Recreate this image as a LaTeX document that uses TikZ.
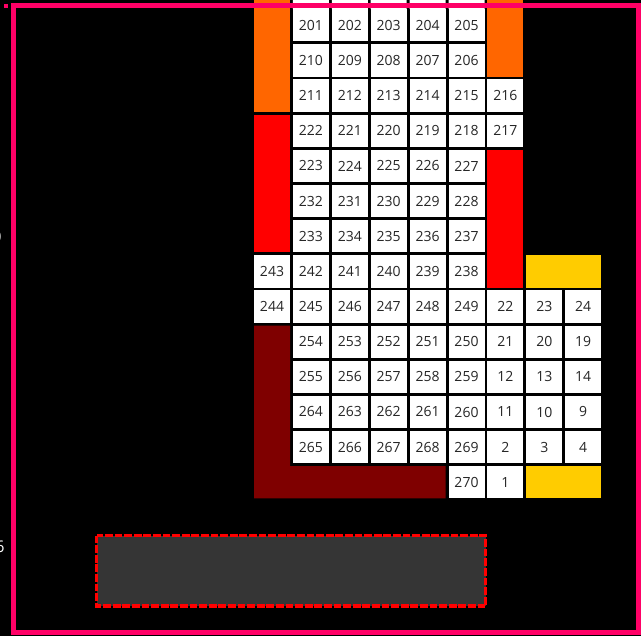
\documentclass[tikz,border=0pt]{standalone}
\usepackage{fontspec}
\setmainfont{Open Sans}
\usepackage{tikz}
\usetikzlibrary{positioning}
\definecolor{frame}{HTML}{FF0066}
\definecolor{zoneorange}{HTML}{FF6600}
\definecolor{zonered}{HTML}{FF0000}
\definecolor{zoneyellow}{HTML}{FFCC00}
\definecolor{zonemaroon}{HTML}{7F0000}
\definecolor{panelgrey}{HTML}{353535}
\newcommand{\gridfont}{\fontsize{14}{16}\selectfont}

\begin{document}
\begin{tikzpicture}[
    x=1pt, y=-1pt,
    node distance=2.85pt and 2.9pt,
    every node/.style={font=\gridfont},
    cell/.style={rectangle, fill=white, text=black!85, minimum width=36pt, minimum height=32.3pt, inner sep=0pt, outer sep=0pt},
    edgetext/.style={text=white!85, font=\fontsize{16}{18}\selectfont, inner sep=0pt, anchor=east},
    border/.style={draw=frame, line width=4.5pt},
    panel/.style={draw=red, fill=panelgrey, line width=3.3pt, dash pattern=on 7.8pt off 1.8pt}
]
% --- canvas ---
\fill[black] (0,0) rectangle (641,636);
\useasboundingbox (0,0) rectangle (641,636);
\coordinate (top) at (0,0);

% --- coloured zones ---
\fill[zoneorange] (254,0) rectangle (290,111.8);
\fill[zoneorange] (487.4,0) rectangle (523.4,76.65);
\fill[zonered] (254,114.65) rectangle (290,252.4);
\fill[zonered] (487.4,149.8) rectangle (523.4,287.55);
\fill[zoneyellow] (526.3,255.25) rectangle (601.2,287.55);
\fill[zoneyellow] (526.3,466.15) rectangle (601.2,498.45);
\fill[zonemaroon] (254,325.55) -- (290,325.55) -- (290,466.15) -- (445.6,466.15)
    -- (445.6,498.45) -- (254,498.45) -- cycle;

% --- cells, row by row ---
\node[cell] (c201) at (310.9,25.35) {201};
\node[cell, right=of c201] (c202) {202};
\node[cell, right=of c202] (c203) {203};
\node[cell, right=of c203] (c204) {204};
\node[cell, right=of c204] (c205) {205};

\node[cell, below=of c201] (c210) {210};
\node[cell, right=of c210] (c209) {209};
\node[cell, right=of c209] (c208) {208};
\node[cell, right=of c208] (c207) {207};
\node[cell, right=of c207] (c206) {206};

\node[cell, below=of c210] (c211) {211};
\node[cell, right=of c211] (c212) {212};
\node[cell, right=of c212] (c213) {213};
\node[cell, right=of c213] (c214) {214};
\node[cell, right=of c214] (c215) {215};
\node[cell, right=of c215] (c216) {216};

\node[cell, below=of c211] (c222) {222};
\node[cell, right=of c222] (c221) {221};
\node[cell, right=of c221] (c220) {220};
\node[cell, right=of c220] (c219) {219};
\node[cell, right=of c219] (c218) {218};
\node[cell, right=of c218] (c217) {217};

\node[cell, below=of c222] (c223) {223};
\node[cell, right=of c223] (c224) {224};
\node[cell, right=of c224] (c225) {225};
\node[cell, right=of c225] (c226) {226};
\node[cell, right=of c226] (c227) {227};

\node[cell, below=of c223] (c232) {232};
\node[cell, right=of c232] (c231) {231};
\node[cell, right=of c231] (c230) {230};
\node[cell, right=of c230] (c229) {229};
\node[cell, right=of c229] (c228) {228};

\node[cell, below=of c232] (c233) {233};
\node[cell, right=of c233] (c234) {234};
\node[cell, right=of c234] (c235) {235};
\node[cell, right=of c235] (c236) {236};
\node[cell, right=of c236] (c237) {237};

\node[cell, below=of c233] (c242) {242};
\node[cell, left=of c242] (c243) {243};
\node[cell, right=of c242] (c241) {241};
\node[cell, right=of c241] (c240) {240};
\node[cell, right=of c240] (c239) {239};
\node[cell, right=of c239] (c238) {238};

\node[cell, below=of c242] (c245) {245};
\node[cell, left=of c245] (c244) {244};
\node[cell, right=of c245] (c246) {246};
\node[cell, right=of c246] (c247) {247};
\node[cell, right=of c247] (c248) {248};
\node[cell, right=of c248] (c249) {249};
\node[cell, right=of c249] (c22) {22};
\node[cell, right=of c22] (c23) {23};
\node[cell, right=of c23] (c24) {24};

\node[cell, below=of c245] (c254) {254};
\node[cell, right=of c254] (c253) {253};
\node[cell, right=of c253] (c252) {252};
\node[cell, right=of c252] (c251) {251};
\node[cell, right=of c251] (c250) {250};
\node[cell, right=of c250] (c21) {21};
\node[cell, right=of c21] (c20) {20};
\node[cell, right=of c20] (c19) {19};

\node[cell, below=of c254] (c255) {255};
\node[cell, right=of c255] (c256) {256};
\node[cell, right=of c256] (c257) {257};
\node[cell, right=of c257] (c258) {258};
\node[cell, right=of c258] (c259) {259};
\node[cell, right=of c259] (c12) {12};
\node[cell, right=of c12] (c13) {13};
\node[cell, right=of c13] (c14) {14};

\node[cell, below=of c255] (c264) {264};
\node[cell, right=of c264] (c263) {263};
\node[cell, right=of c263] (c262) {262};
\node[cell, right=of c262] (c261) {261};
\node[cell, right=of c261] (c260) {260};
\node[cell, right=of c260] (c11) {11};
\node[cell, right=of c11] (c10) {10};
\node[cell, right=of c10] (c9) {9};

\node[cell, below=of c264] (c265) {265};
\node[cell, right=of c265] (c266) {266};
\node[cell, right=of c266] (c267) {267};
\node[cell, right=of c267] (c268) {268};
\node[cell, right=of c268] (c269) {269};
\node[cell, right=of c269] (c2) {2};
\node[cell, right=of c2] (c3) {3};
\node[cell, right=of c3] (c4) {4};

\node[cell, below=of c269] (c270) {270};
\node[cell, right=of c270] (c1) {1};

% top row runs on past the edge
\fill[white] (c201.north west) rectangle (c201.east |- top)
    (c202.north west) rectangle (c202.east |- top)
    (c203.north west) rectangle (c203.east |- top)
    (c204.north west) rectangle (c204.east |- top)
    (c205.north west) rectangle (c205.east |- top);

% --- cut-off labels at the left edge ---
\node[edgetext] (lblzero) at (1.8,237) {0};
\node[edgetext] (lblsix) at (4.8,547) {6};

% --- panel and frame ---
\draw[panel] (96.6,535.7) rectangle (485.6,606);
\draw[border] (13.5,5.6) rectangle (638.6,632.4);
\fill[frame] (4,4) rectangle (8,8);
\end{tikzpicture}
\end{document}
